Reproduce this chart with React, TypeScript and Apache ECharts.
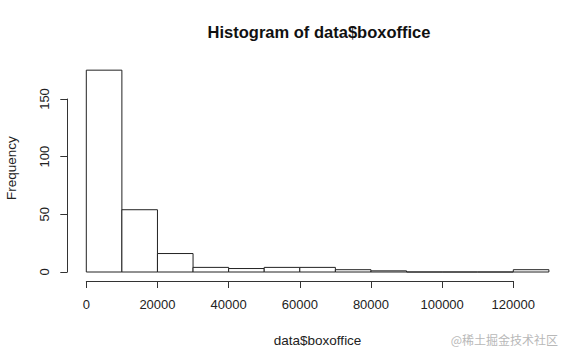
import React, { useEffect, useRef } from "react";
import * as echarts from "echarts";

const binEdges = [0, 10000, 20000, 30000, 40000, 50000, 60000, 70000, 80000, 90000, 100000, 110000, 120000, 130000];
const counts = [175, 54, 16, 4, 3, 4, 4, 2, 1, 0, 0, 0, 2];
const xTicks = [0, 20000, 40000, 60000, 80000, 100000, 120000];
const yTicks = [0, 50, 100, 150];
const titleText = "Histogram of data$boxoffice";
const xName = "data$boxoffice";
const yName = "Frequency";
const watermark = "@稀土掘金技术社区";

const FONT = "'Liberation Sans', Arial, Helvetica, sans-serif";

export default function App() {
  const ref = useRef<HTMLDivElement>(null);
  useEffect(() => {
    document.body.style.margin = "0";
    const chart = echarts.init(ref.current!, undefined, { renderer: "svg" });
    const bins = counts.map((c, i) => [binEdges[i], binEdges[i + 1], c]);
    const xMin = binEdges[0];
    const xMax = binEdges[binEdges.length - 1];
    const left = 86.3;
    const pxPerX = 427 / 120000;
    const zeroY = 272;
    const pxPerY = 173 / 150;
    const barYMax = 180;
    chart.setOption({
      animation: false,
      backgroundColor: "#fff",
      title: {
        text: titleText,
        left: 314,
        top: 18,
        textAlign: "center",
        textStyle: { fontFamily: FONT, fontSize: 16.5, fontWeight: "bold", color: "#111" },
      },
      grid: [
        {
          left: left,
          width: (xMax - xMin) * pxPerX,
          top: zeroY - barYMax * pxPerY,
          height: barYMax * pxPerY,
          containLabel: false,
          outerBoundsMode: "none",
        },
        {
          left: left,
          width: (xTicks[xTicks.length - 1] - xTicks[0]) * pxPerX,
          top: zeroY - yTicks[yTicks.length - 1] * pxPerY,
          height: yTicks[yTicks.length - 1] * pxPerY,
          containLabel: false,
          outerBoundsMode: "none",
        },
      ],
      xAxis: [
        {
          gridIndex: 0,
          type: "value",
          min: xMin,
          max: xMax,
          axisLine: { show: false },
          axisTick: { show: false },
          axisLabel: { show: false },
          splitLine: { show: false },
          name: xName,
          nameLocation: "middle",
          nameGap: 61,
          nameTextStyle: { fontFamily: FONT, fontSize: 13.5, color: "#222" },
        },
        {
          gridIndex: 1,
          type: "value",
          min: 0,
          max: 120000,
          interval: 20000,
          offset: 9,
          axisLine: { show: true, onZero: false, lineStyle: { color: "#333", width: 1 } },
          axisTick: { show: true, length: 7, lineStyle: { color: "#333" } },
          axisLabel: {
            margin: 17,
            fontFamily: FONT,
            fontSize: 13,
            color: "#222",
            formatter: (v: number) => String(v),
          },
          splitLine: { show: false },
        },
      ],
      yAxis: [
        {
          gridIndex: 0,
          type: "value",
          min: 0,
          max: barYMax,
          axisLine: { show: false },
          axisTick: { show: false },
          axisLabel: { show: false },
          splitLine: { show: false },
          name: yName,
          nameLocation: "middle",
          nameRotate: 90,
          nameGap: 68,
          nameTextStyle: { fontFamily: FONT, fontSize: 13.5, color: "#222" },
        },
        {
          gridIndex: 1,
          type: "value",
          min: 0,
          max: 150,
          interval: 50,
          offset: 19,
          axisLine: { show: true, onZero: false, lineStyle: { color: "#333", width: 1 } },
          axisTick: { show: true, length: 7, lineStyle: { color: "#333" } },
          axisLabel: {
            margin: 16,
            rotate: 90,
            fontFamily: FONT,
            fontSize: 13,
            color: "#222",
            formatter: (v: number) => String(v),
          },
          splitLine: { show: false },
        },
      ],
      series: [
        {
          type: "custom",
          xAxisIndex: 0,
          yAxisIndex: 0,
          data: bins,
          encode: { x: [0, 1], y: 2 },
          renderItem: (params: any, api: any) => {
            const p0 = api.coord([api.value(0), api.value(2)]);
            const p1 = api.coord([api.value(1), 0]);
            return {
              type: "rect",
              shape: { x: p0[0], y: p0[1], width: p1[0] - p0[0], height: p1[1] - p0[1] },
              style: { fill: "#fff", stroke: "#222", lineWidth: 1 },
            };
          },
        },
      ],
      graphic: [
        {
          type: "text",
          right: 4,
          top: 333,
          style: { text: watermark, fontFamily: "'Noto Sans CJK SC', sans-serif", fontSize: 12, fill: "#b8b8b8" },
        },
      ],
    });
    return () => chart.dispose();
  }, []);
  return <div ref={ref} style={{ position: "absolute", left: 0, top: 0, width: 562, height: 351 }} />;
}
